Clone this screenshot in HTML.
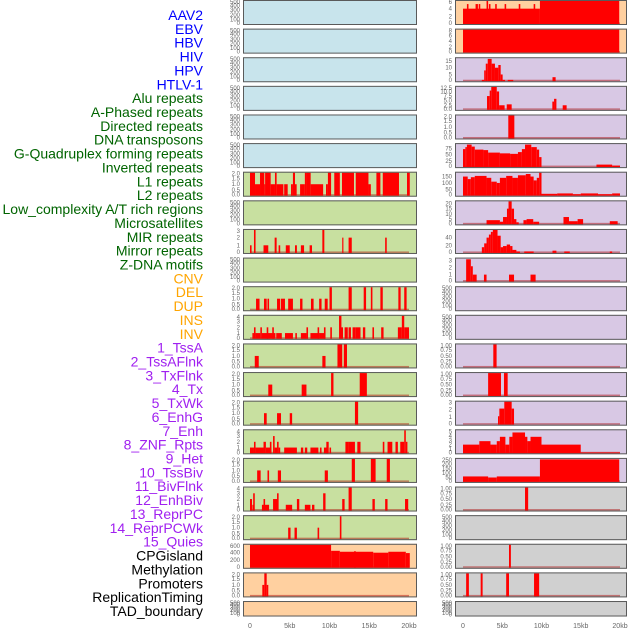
<!DOCTYPE html>
<html><head><meta charset="utf-8">
<style>
html,body{margin:0;padding:0;background:#fff;}
svg{display:block;font-family:"Liberation Sans",sans-serif;}
</style></head>
<body>
<svg id="chart" width="630" height="630" viewBox="0 0 630 630"></svg>
<script>
const labels = ["AAV2","EBV","HBV","HIV","HPV","HTLV-1","Alu repeats","A-Phased repeats","Directed repeats","DNA transposons","G-Quadruplex forming repeats","Inverted repeats","L1 repeats","L2 repeats","Low_complexity A/T rich regions","Microsatellites","MIR repeats","Mirror repeats","Z-DNA motifs","CNV","DEL","DUP","INS","INV","1_TssA","2_TssAFlnk","3_TxFlnk","4_Tx","5_TxWk","6_EnhG","7_Enh","8_ZNF_Rpts","9_Het","10_TssBiv","11_BivFlnk","12_EnhBiv","13_ReprPC","14_ReprPCWk","15_Quies","CPGisland","Methylation","Promoters","ReplicationTiming","TAD_boundary"];
const labelColors = ["#0000ff","#0000ff","#0000ff","#0000ff","#0000ff","#0000ff","#006400","#006400","#006400","#006400","#006400","#006400","#006400","#006400","#006400","#006400","#006400","#006400","#006400","#ffa500","#ffa500","#ffa500","#ffa500","#ffa500","#a020f0","#a020f0","#a020f0","#a020f0","#a020f0","#a020f0","#a020f0","#a020f0","#a020f0","#a020f0","#a020f0","#a020f0","#a020f0","#a020f0","#a020f0","#000","#000","#000","#000","#000"];
const xTicks = [0,5,10,15,20];
const xTickLabels = ["0","5kb","10kb","15kb","20kb"];

const leftBg = ["#c8e4ec","#c8e4ec","#c8e4ec","#c8e4ec","#c8e4ec","#c8e4ec","#c8e0a0","#c8e0a0","#c8e0a0","#c8e0a0","#c8e0a0","#c8e0a0","#c8e0a0","#c8e0a0","#c8e0a0","#c8e0a0","#c8e0a0","#c8e0a0","#c8e0a0","#ffd0a0","#ffd0a0","#ffd0a0"];
const leftMax = [500,500,500,500,500,500,2,500,3,500,2,4,2,2,2,4,2,4,2,610,2,500];
const leftTicks = [[0,100,200,300,400,500],[0,100,200,300,400,500],[0,100,200,300,400,500],[0,100,200,300,400,500],[0,100,200,300,400,500],[0,100,200,300,400,500],
 ["0.0","0.5","1.0","1.5","2.0"],[0,100,200,300,400,500],[0,1,2,3],[0,100,200,300,400,500],["0.0","0.5","1.0","1.5","2.0"],[0,1,2,3,4],
 ["0.0","0.5","1.0","1.5","2.0"],["0.0","0.5","1.0","1.5","2.0"],["0.0","0.5","1.0","1.5","2.0"],[0,1,2,3,4],["0.0","0.5","1.0","1.5","2.0"],[0,1,2,3,4],
 ["0.0","0.5","1.0","1.5","2.0"],[0,200,400,600],["0.0","0.5","1.0","1.5","2.0"],[0,100,200,300,400,500]];
const leftL1 = [[0,0.63,2],[0.63,1.26,1],[1.26,1.8,2],[1.8,1.9,1],[1.9,2.6,2],[2.6,3.14,1],[3.14,3.35,2],[3.35,4.2,1],[4.3,4.74,1],[5.16,5.4,1],[5.4,5.66,2],[5.66,5.87,1],[6.3,6.9,1],[6.9,7.1,2],[7.1,7.63,2],[7.63,9.2,1],[9.56,9.8,1],[9.8,10.2,2],[10.6,11.3,2],[11.57,13.08,2],[13.3,14.9,2],[14.9,15.2,1],[15.9,16.4,2],[16.7,18.74,2],[19.75,20.1,2]];
const leftMIR = [[0,0.2,1],[0.5,0.7,3],[1.7,2.3,1],[3.1,3.35,2],[3.6,3.8,1],[4.5,5.0,1],[5.66,5.9,1],[6.4,6.8,1],[7.5,7.8,1],[9.1,9.35,3],[11.6,11.75,2],[12.4,12.8,2],[17.0,17.2,2]];
const leftCNV = [[0.76,1.2,1],[1.76,2.1,1],[2.2,2.4,1],[3.4,3.8,1],[3.9,4.4,1],[4.8,5.4,1],[6.3,6.6,1],[7.67,8.0,1],[8.7,9.0,1],[9.4,9.77,1],[10.0,10.3,2],[12.4,12.8,2],[14.3,14.6,2],[15.2,15.4,2],[16.4,16.7,2],[18.66,18.95,2],[19.4,19.7,2]];
const leftDEL = [[0.3,0.5,1],[0.5,0.7,2],[0.7,1.3,1],[1.3,1.5,2],[1.5,3.2,1],[2.1,2.3,2],[2.8,3.0,2],[3.3,4.0,1],[4.4,5.4,1],[5.7,5.9,1],[6.4,7.1,1],[7.1,7.3,2],[7.6,8.8,1],[8.5,8.7,2],[8.8,9.4,1],[9.3,9.5,2],[10.1,10.3,2],[11.2,11.5,4],[11.4,11.7,2],[11.9,12.3,2],[12.4,12.7,2],[12.9,13.3,2],[13.3,13.9,2],[14.2,14.5,2],[15.4,15.6,2],[16.5,16.8,2],[18.6,19.1,2],[19.1,19.4,4],[19.4,20,2]];
const leftDUP = [[0.6,1.1,1],[9.1,9.5,1],[11.0,11.6,2],[11.8,12.2,2]];
const leftINS = [[2.3,2.8,1],[6.5,7.1,1],[10.2,10.5,2],[13.8,14.7,2]];
const leftINV = [[1.76,2.1,1],[3.4,3.9,1],[5.0,5.3,1],[13.2,13.6,2]];
const leftTssA = [[0,0.5,1],[0.5,0.7,2],[0.7,1.7,1],[1.7,2.0,2],[2.0,2.7,1],[2.5,2.7,2],[2.9,3.1,3],[3.1,3.4,1],[3.4,3.6,2],[3.6,3.8,1],[4.3,5.9,1],[6.4,6.7,1],[6.9,7.2,1],[7.6,8.6,1],[8.8,9.0,1],[9.3,9.8,1],[9.6,9.9,2],[10.0,10.2,1],[12.0,12.4,2],[12.4,13.2,2],[13.5,13.9,2],[16.7,16.9,2],[17.3,17.9,2],[18.3,18.6,2],[18.9,19.4,2],[19.4,19.6,4],[19.6,19.8,2]];
const leftTssAFlnk = [[0.9,1.34,1],[2.2,2.4,1],[3.5,3.9,1],[9.4,9.8,1],[12.8,13.2,2],[15.2,15.8,2],[17.2,17.6,2]];
const leftTxFlnk = [[0,0.25,2],[0.3,0.5,1],[0.4,0.6,3],[1.5,2.4,1],[1.7,1.9,2],[2.9,3.5,2],[3.4,3.6,3],[4.5,5.3,1],[5.9,6.2,2],[6.9,7.6,1],[7.8,8.1,1],[9.2,9.5,3],[11.6,11.9,2],[12.4,12.8,4],[15.4,15.7,2],[17.0,17.3,2],[19.5,19.9,2]];
const leftTx = [[4.8,5.1,1],[5.6,5.9,1],[8.5,8.7,1],[11.3,11.5,2]];
const leftTxWk = [[0,10.2,610],[10.2,11.3,450],[11.3,15.5,425],[13.1,13.3,440],[15.5,17.4,400],[17.4,19.6,425],[19.6,20.1,390]];
const leftEnhG = [[1.55,1.8,1],[1.8,2.1,2],[2.1,2.3,1]];
const leftSegs = [[],[],[],[],[],[],leftL1,[],leftMIR,[],leftCNV,leftDEL,leftDUP,leftINS,leftINV,leftTssA,leftTssAFlnk,leftTxFlnk,leftTx,leftTxWk,leftEnhG,[]];

const rightBg = ["#ffd0a0","#ffd0a0","#d8c8e4","#d8c8e4","#d8c8e4","#d8c8e4","#d8c8e4","#d8c8e4","#d8c8e4","#d8c8e4","#d8c8e4","#d8c8e4","#d8c8e4","#d8c8e4","#d8c8e4","#d8c8e4","#d8c8e4","#d0d0d0","#d0d0d0","#d0d0d0","#d0d0d0","#d0d0d0"];
const rightMax = [6,8,17,12.5,2,92,180,22,60,3.3,500,500,1,1,3,5.3,260,1,500,1,1,500];
const rightTicks = [[0,2,4,6],[0,2,4,6,8],[0,5,10,15],["0.0","2.5","5.0","7.5","10.0","12.5"],["0.0","0.5","1.0","1.5","2.0"],[0,25,50,75],[0,50,100,150],[0,5,10,15,20],[0,20,40],[0,1,2,3],
 [0,100,200,300,400,500],[0,100,200,300,400,500],["0.00","0.25","0.50","0.75","1.00"],["0.00","0.25","0.50","0.75","1.00"],[0,1,2,3],[0,1,2,3,4,5],[0,50,100,150,200,250],["0.00","0.25","0.50","0.75","1.00"],[0,100,200,300,400,500],["0.00","0.25","0.50","0.75","1.00"],["0.00","0.25","0.50","0.75","1.00"],[0,100,200,300,400,500]];
const rightAAV2 = [[0,9.8,4],[0.5,0.7,5.2],[1.6,1.9,5.2],[2.0,2.2,5.2],[3.0,3.2,6],[3.3,3.5,5.2],[4.1,4.3,5.2],[5.3,5.5,5.2],[7.1,7.3,5.2],[9.0,9.2,5.2],[9.8,19.9,6]];
const rightEBV = [[0,19.9,8]];
const rightHIV = [[2.4,2.7,1],[2.7,2.9,8],[2.9,3.15,13],[3.15,3.65,16.5],[3.65,4.07,13],[4.07,4.5,10],[4.5,4.8,12],[4.8,5.05,5],[5.05,5.35,1],[5.7,6.4,1],[11.4,11.8,3]];
const rightHPV = [[3.06,3.4,7.5],[3.4,3.6,10.5],[3.6,4.3,12.5],[4.3,4.6,10],[4.6,5.3,2.5],[5.57,6.2,3],[11.38,11.6,4.5],[11.6,11.9,6],[12.7,13.2,2.5]];
const rightHTLV = [[5.77,6.54,2]];
const rightAlu = [[0,0.3,72],[0.3,0.5,80],[0.5,1.1,90],[1.1,1.5,82],[1.5,2.6,70],[2.6,3.2,68],[3.2,4.7,58],[4.7,6.0,55],[6.0,7.0,53],[7.0,7.5,60],[7.5,7.9,72],[7.9,8.7,90],[8.7,9.4,80],[9.4,9.7,70],[9.7,10.0,40],[17.0,19.0,10],[19.0,20.0,6]];
const rightAPhased = [[0,0.6,150],[0.6,1.0,130],[1.0,1.5,145],[1.5,3.0,155],[3.0,3.6,140],[3.6,4.3,110],[4.3,4.7,100],[4.7,5.5,140],[5.5,6.3,155],[6.3,7.0,140],[7.0,8.0,160],[8.0,8.6,170],[8.6,9.0,150],[9.0,9.4,120],[9.4,9.7,140],[9.7,10.0,180],[10.0,12.0,15],[12.0,14.0,18],[14.0,15.0,12],[15.0,17.2,18],[17.2,19.0,12],[19.0,20.0,18]];
const rightDirected = [[3.0,4.7,4],[4.7,5.1,2.5],[5.1,5.6,7],[5.6,5.8,15],[5.8,6.2,22],[6.2,6.5,15],[6.5,6.8,5],[6.8,7.1,2],[7.7,8.1,4],[8.1,8.95,5],[8.95,9.7,2.5],[12.8,13.5,7],[13.5,14.6,3],[14.6,15.3,5],[18.7,19.7,3]];
const rightDNA = [[2.4,2.7,15],[2.7,3.0,25],[3.0,3.3,40],[3.3,3.55,48],[3.55,3.8,55],[3.8,4.4,60],[4.4,4.8,45],[4.8,5.1,15],[5.1,5.57,18],[5.57,6.0,22],[6.0,6.3,18],[6.3,6.8,8],[6.8,7.25,4],[7.8,9.0,4],[11.4,11.9,6],[12.9,13.6,4],[18.7,19.0,4]];
const rightGQ = [[0.4,1.0,3.2],[1.0,1.25,2.2],[1.25,1.74,1],[2.67,3.0,1],[5.86,6.5,1],[8.6,9.25,1]];
const rightL2 = [[3.86,4.28,1]];
const rightLow = [[3.2,4.84,1],[5.22,5.69,1]];
const rightMicro = [[4.46,4.63,1.1],[4.63,5.26,2.1],[5.26,6.2,3],[6.2,6.5,2.1]];
const rightMIR = [[0,2.08,2],[2.08,3.5,2.8],[3.5,4.3,2],[4.3,4.7,2.8],[4.7,5.4,3.8],[5.4,5.9,2],[5.9,6.3,3.8],[6.3,7.9,4.8],[7.9,8.2,3.8],[8.2,8.6,2.8],[8.6,10.0,3.8],[10.0,15.0,2],[15.0,20.0,0.2]];
const rightMirror = [[0,3.2,62],[3.2,4.3,50],[4.3,9.8,62],[9.8,19.9,255]];
const rightZDNA = [[7.9,8.3,1]];
const rightCpG = [[5.86,6.1,1]];
const rightMeth = [[0.4,0.75,1],[2.25,2.5,1],[5.5,5.86,1],[9.05,9.7,1]];
const rightSegs = [rightAAV2,rightEBV,rightHIV,rightHPV,rightHTLV,rightAlu,rightAPhased,rightDirected,rightDNA,rightGQ,[],[],rightL2,rightLow,rightMicro,rightMIR,rightMirror,rightZDNA,[],rightCpG,rightMeth,[]];

const NS = "http://www.w3.org/2000/svg";
const svg = document.getElementById("chart");
function mk(tag, attrs, parent){const e=document.createElementNS(NS,tag);for(const k in attrs)e.setAttribute(k,attrs[k]);(parent||svg).appendChild(e);return e;}

labels.forEach((t,i)=>{
  const el = mk("text",{x:203,y:15+i*13.86+5,"text-anchor":"end","font-size":"14",fill:labelColors[i]});
  
  
  el.textContent=t;
});

function rowTop(i){return i*28.62;}
function rowH(i){return i===21?15.5:25;}

function drawColumn(side, px0, px1, x0, x1, bgs, maxes, ticks, segs){
  const xs = kb => x0 + kb/20*(x1-x0);
  for(let i=0;i<bgs.length;i++){
    const top=rowTop(i), h=rowH(i), bot=top+h;
    const g = mk("g",{});
    
    
    const bg = mk("rect",{x:px0,y:top,width:px1-px0,height:h,fill:bgs[i]},g);
    
    
    const ys = v => bot-1 - v/maxes[i]*(h-2);
    if(segs[i].length){
      const base = mk("rect",{x:xs(0),y:bot-2.5,width:xs(20)-xs(0),height:1.5,fill:"rgba(170,0,0,0.45)"},g);
      
      
    }
    segs[i].forEach(s=>{
      const y=Math.max(top+1,ys(s[2]));
      const b = mk("rect",{x:xs(s[0]),y:y,width:Math.max(1,xs(s[1])-xs(s[0])),height:bot-1-y,fill:"#ff0000"},g);
      
      
    });
    const fr = mk("rect",{x:px0+0.5,y:top+0.5,width:px1-px0-1,height:h-1,fill:"none",stroke:"#5a5a5a","stroke-width":1},g);
    
    
    ticks[i].forEach(t=>{
      const v=parseFloat(t);
      const tl = mk("text",{x:px0-3,y:Math.min(bot,Math.max(top+4,ys(v)+2)),"text-anchor":"end","font-size":"6",fill:"#666"},g);
      
      
      tl.textContent=String(t);
    });
  }
  xTicks.forEach((k,j)=>{
    const t = mk("text",{x:xs(k),y:628,"text-anchor":"middle","font-size":"7",fill:"#666"});
    
    
    t.textContent=xTickLabels[j];
  });
}
drawColumn("left",243,417,250,409,leftBg,leftMax,leftTicks,leftSegs);
drawColumn("right",455,627,463,620,rightBg,rightMax,rightTicks,rightSegs);
</script>
</body></html>
